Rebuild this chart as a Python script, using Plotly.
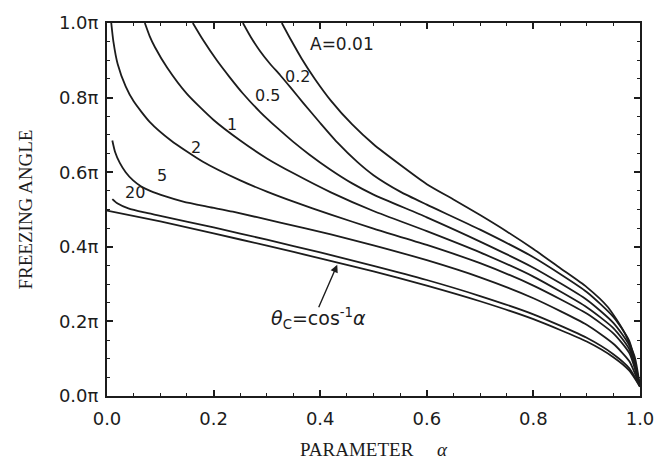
import plotly.graph_objects as go

# --- data (theta in units of pi) ---
a_001 = [0.328, 0.345, 0.365, 0.39, 0.42, 0.46, 0.5, 0.55, 0.6, 0.65, 0.7, 0.75, 0.8, 0.85, 0.9, 0.94, 0.97, 0.99, 1.0]
t_001 = [1.0, 0.955, 0.905, 0.85, 0.792, 0.728, 0.675, 0.62, 0.568, 0.527, 0.485, 0.441, 0.394, 0.343, 0.292, 0.238, 0.172, 0.105, 0.025]

a_02 = [0.255, 0.27, 0.287, 0.305, 0.325, 0.345, 0.368, 0.4, 0.432, 0.47, 0.5, 0.55, 0.6, 0.7, 0.8, 0.9, 0.95, 0.98, 1.0]
t_02 = [1.0, 0.962, 0.925, 0.892, 0.86, 0.826, 0.786, 0.732, 0.68, 0.627, 0.592, 0.548, 0.513, 0.446, 0.372, 0.279, 0.212, 0.147, 0.025]

a_05 = [0.161, 0.18, 0.206, 0.23, 0.255, 0.287, 0.32, 0.349, 0.38, 0.418, 0.46, 0.5, 0.6, 0.7, 0.8, 0.9, 0.95, 0.98, 1.0]
t_05 = [1.0, 0.955, 0.9, 0.855, 0.811, 0.762, 0.718, 0.682, 0.647, 0.608, 0.57, 0.54, 0.479, 0.414, 0.344, 0.258, 0.196, 0.135, 0.025]

a_1 = [0.071, 0.08, 0.09, 0.113, 0.15, 0.2, 0.25, 0.3, 0.35, 0.42, 0.5, 0.6, 0.7, 0.8, 0.9, 0.95, 0.98, 1.0]
t_1 = [1.0, 0.965, 0.935, 0.88, 0.81, 0.74, 0.685, 0.637, 0.597, 0.546, 0.496, 0.442, 0.385, 0.32, 0.238, 0.182, 0.125, 0.025]

a_2 = [0.008, 0.012, 0.02, 0.035, 0.05, 0.08, 0.12, 0.18, 0.25, 0.3, 0.35, 0.42, 0.5, 0.6, 0.7, 0.8, 0.9, 0.95, 0.98, 1.0]
t_2 = [1.0, 0.95, 0.89, 0.83, 0.79, 0.735, 0.685, 0.628, 0.578, 0.548, 0.521, 0.486, 0.449, 0.405, 0.356, 0.296, 0.221, 0.168, 0.115, 0.025]

a_5 = [0.01, 0.015, 0.024, 0.035, 0.049, 0.065, 0.081, 0.11, 0.143, 0.19, 0.236, 0.325, 0.42, 0.5, 0.6, 0.7, 0.8, 0.9, 0.95, 0.98, 1.0]
t_5 = [0.685, 0.655, 0.625, 0.6, 0.578, 0.561, 0.55, 0.535, 0.521, 0.507, 0.494, 0.465, 0.433, 0.404, 0.364, 0.318, 0.262, 0.191, 0.14, 0.093, 0.025]

a_20 = [0.01, 0.02, 0.04, 0.07, 0.1, 0.2, 0.3, 0.4, 0.5, 0.6, 0.7, 0.8, 0.9, 0.95, 0.98, 1.0]
t_20 = [0.528, 0.516, 0.503, 0.492, 0.483, 0.452, 0.419, 0.385, 0.349, 0.311, 0.268, 0.219, 0.156, 0.112, 0.074, 0.025]

a_c = [0.0, 0.1, 0.2, 0.3, 0.4, 0.5, 0.6, 0.7, 0.8, 0.9, 0.95, 0.98, 1.0]
t_c = [0.497, 0.468, 0.436, 0.403, 0.369, 0.334, 0.296, 0.254, 0.206, 0.146, 0.104, 0.068, 0.025]

curves = [(a_001, t_001), (a_02, t_02), (a_05, t_05), (a_1, t_1),
          (a_2, t_2), (a_5, t_5), (a_20, t_20), (a_c, t_c)]

x_ticks = [0.0, 0.2, 0.4, 0.6, 0.8, 1.0]
x_ticktext = ["0.0", "0.2", "0.4", "0.6", "0.8", "1.0"]
y_ticks = [0.0, 0.2, 0.4, 0.6, 0.8, 1.0]
y_ticktext = ["0.0π", "0.2π", "0.4π", "0.6π", "0.8π", "1.0π"]

# curve labels: (text, alpha, theta)
labels = [("A=0.01", 0.440, 0.945), ("0.2", 0.357, 0.856), ("0.5", 0.302, 0.805),
          ("1", 0.235, 0.728), ("2", 0.167, 0.666), ("5", 0.103, 0.592),
          ("20", 0.053, 0.545)]

INK = "#1c1c1c"
NUMFONT = "DejaVu Sans"
SERIF = "Liberation Serif"

fig = go.Figure()
for a, t in curves:
    fig.add_trace(go.Scatter(x=a, y=t, mode="lines",
                             line=dict(color=INK, width=1.8, shape="spline", smoothing=0.6),
                             showlegend=False, hoverinfo="skip"))

for txt, a, t in labels:
    fig.add_annotation(x=a, y=t, text=txt, showarrow=False,
                       font=dict(family=NUMFONT, size=17 if txt.startswith("A") else 16, color=INK))

# theta_c annotation with arrow
fig.add_annotation(x=0.432, y=0.352, ax=0.396, ay=0.234, axref="x", ayref="y",
                   text="", showarrow=True, arrowhead=2, arrowsize=1.1,
                   arrowwidth=1.4, arrowcolor=INK)
fig.add_annotation(x=0.396, y=0.208, showarrow=False,
                   text="<i>θ</i><sub>C</sub>=cos<sup>-1</sup><i>α</i>",
                   font=dict(family=NUMFONT, size=19, color=INK))

# axis titles
fig.add_annotation(xref="paper", yref="paper", x=0.5, y=0, yanchor="middle",
                   yshift=-53, showarrow=False,
                   text="PARAMETER\u00a0\u00a0\u00a0\u00a0\u00a0<i>α</i>",
                   font=dict(family=SERIF, size=19, color=INK))
fig.add_annotation(xref="paper", yref="paper", x=0, y=0.5, xanchor="center",
                   xshift=-82, textangle=-90, showarrow=False,
                   text="FREEZING ANGLE",
                   font=dict(family=SERIF, size=19, color=INK))

axis_common = dict(showgrid=False, zeroline=False, showline=True, linecolor=INK,
                   linewidth=2, mirror="ticks", ticks="inside", ticklen=6,
                   tickwidth=1.5, tickcolor=INK,
                   minor=dict(ticks="inside", ticklen=3, tickwidth=1, tickcolor=INK, dtick=0.05),
                   tickfont=dict(family=NUMFONT, size=18, color=INK))

fig.update_xaxes(range=[0, 1], tickvals=x_ticks, ticktext=x_ticktext,
                 ticklabelstandoff=5, **axis_common)
fig.update_yaxes(range=[0, 1], tickvals=y_ticks, ticktext=y_ticktext,
                 ticklabelstandoff=3, **axis_common)

fig.update_layout(width=666, height=464, autosize=False,
                  margin=dict(l=107, r=26, t=15, b=68),
                  paper_bgcolor="white", plot_bgcolor="white")

fig.write_html("out.html")
